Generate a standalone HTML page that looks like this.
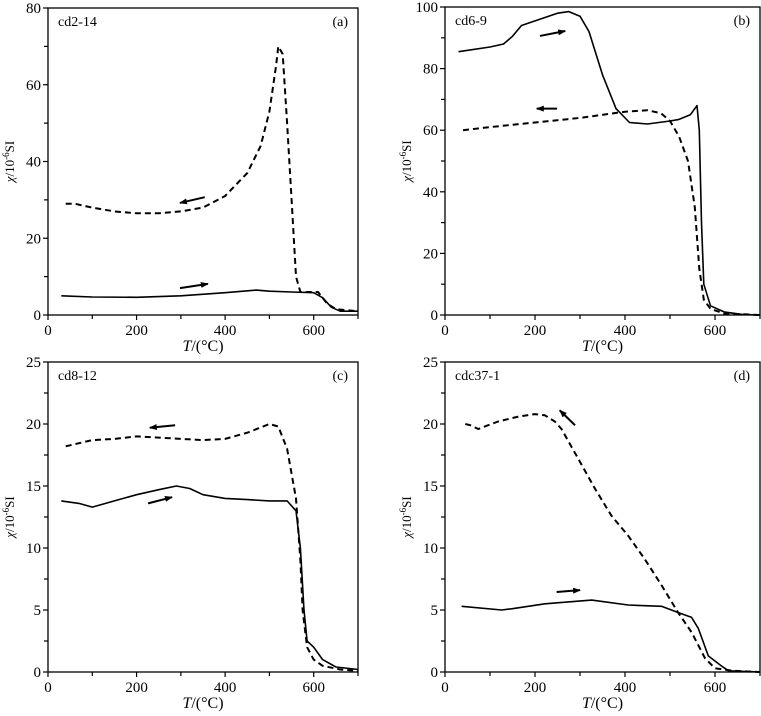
<!DOCTYPE html>
<html><head><meta charset="utf-8"><style>
html,body{margin:0;padding:0;background:#fff;width:761px;height:716px;overflow:hidden}
svg{display:block;font-family:"Liberation Serif",serif}
</style></head><body>
<svg id="chart" width="761" height="716"></svg>
<script>
const xTicks=[0,200,400,600];
const xMinor=[100,300,500,700];
const aHeatT=[30,100,200,300,400,470,500,550,600,620,640,660,700];
const aHeatV=[5,4.7,4.6,5,5.8,6.5,6.2,6,5.8,4.5,2,1,1];
const aCoolT=[40,60,100,150,200,250,300,350,400,450,480,500,515,520,530,540,550,560,570,590,610,630,650,700];
const aCoolV=[29,29,28,27,26.5,26.5,27,28,31,37,44,53,65,70,68,50,30,10,6,6,6,3,1.5,1];
const bHeatT=[30,100,130,150,170,200,250,275,300,320,350,380,410,450,500,520,545,560,565,570,575,590,620,660,700];
const bHeatV=[85.5,87,88,90.5,94,95.5,98,98.5,97,92,78,67,62.5,62,63,63.5,65,68,60,30,10,3,1,0.2,0];
const bCoolT=[40,100,200,300,400,450,480,500,520,540,555,565,575,590,620,700];
const bCoolV=[60,61,62.5,64,66,66.5,65.5,63,58,50,35,15,5,2,0.5,0];
const cHeatT=[30,70,100,150,200,250,290,320,350,400,450,500,540,560,570,578,585,600,620,650,700];
const cHeatV=[13.8,13.6,13.3,13.8,14.3,14.7,15,14.8,14.3,14,13.9,13.8,13.8,13,10,5,2.5,2,1,0.4,0.2];
const cCoolT=[40,100,150,200,250,300,350,400,450,500,520,540,560,570,575,585,600,620,660,700];
const cCoolV=[18.2,18.7,18.8,19,18.9,18.8,18.7,18.8,19.3,20,19.8,18,14,9,5,2,1,0.5,0.2,0.1];
const dHeatT=[37,126,148,222,326,407,481,518,548,563,585,615,630,700];
const dHeatV=[5.3,5.0,5.1,5.5,5.8,5.4,5.3,4.8,4.4,3.5,1.3,0.47,0.1,0];
const dCoolT=[45,56,74,118,163,200,222,244,259,296,333,370,407,444,481,518,548,578,600,640,700];
const dCoolV=[20,19.9,19.6,20.2,20.6,20.8,20.7,20.2,19.6,17.2,14.8,12.6,11.0,9.1,7.0,4.8,3.2,1.1,0.3,0.1,0];
const panels=[
 {id:'a',name:'cd2-14',x0:48,x1:358,y0:315,y1:8,ymax:80,yTicks:[0,20,40,60,80],yMinor:[10,30,50,70],
  heat:[aHeatT,aHeatV],cool:[aCoolT,aCoolV],arrows:[[354,30.7,298,29.2],[298,7,361,8.1]]},
 {id:'b',name:'cd6-9',x0:445,x1:760,y0:315,y1:7,ymax:100,yTicks:[0,20,40,60,80,100],yMinor:[10,30,50,70,90],
  heat:[bHeatT,bHeatV],cool:[bCoolT,bCoolV],arrows:[[211,90.6,267,92.2],[249,67,204,67]]},
 {id:'c',name:'cd8-12',x0:48,x1:358,y0:672,y1:362,ymax:25,yTicks:[0,5,10,15,20,25],yMinor:[2.5,7.5,12.5,17.5,22.5],
  heat:[cHeatT,cHeatV],cool:[cCoolT,cCoolV],arrows:[[287,19.9,230,19.7],[226,13.6,280,14.1]]},
 {id:'d',name:'cdc37-1',x0:445,x1:760,y0:672,y1:362,ymax:25,yTicks:[0,5,10,15,20,25],yMinor:[2.5,7.5,12.5,17.5,22.5],
  heat:[dHeatT,dHeatV],cool:[dCoolT,dCoolV],arrows:[[248,6.45,300,6.6],[289,19.9,255,21.1]]}
];
const svg=document.getElementById('chart');
const NS='http://www.w3.org/2000/svg';
function mk(tag,attrs,parent){const e=document.createElementNS(NS,tag);for(const k in attrs)e.setAttribute(k,attrs[k]);parent.appendChild(e);return e;}
const defs=mk('defs',{},svg);
const mkr=mk('marker',{id:'ah',markerWidth:'8',markerHeight:'6',refX:'7',refY:'3',orient:'auto',markerUnits:'userSpaceOnUse'},defs);
mk('path',{d:'M0,0 L8,3 L0,6 Z',fill:'#000'},mkr);
panels.forEach(p=>{
 const g=mk('g',{},svg);
 
 
 const sx=v=>p.x0+(v/700)*(p.x1-p.x0);
 const sy=v=>p.y0-(v/p.ymax)*(p.y0-p.y1);
 const fr=mk('rect',{x:p.x0,y:p.y1,width:p.x1-p.x0,height:p.y0-p.y1,fill:'none',stroke:'#000','stroke-width':1.3},g);
 
 
 xTicks.forEach(t=>{
  mk('line',{x1:sx(t),x2:sx(t),y1:p.y0,y2:p.y0+5,stroke:'#000','stroke-width':1.2},g);
  const tx=mk('text',{x:sx(t),y:p.y0+20,'text-anchor':'middle','font-size':15},g);tx.textContent=t;
  
  
 });
 xMinor.forEach(t=>mk('line',{x1:sx(t),x2:sx(t),y1:p.y0,y2:p.y0+4,stroke:'#000','stroke-width':1.2},g));
 p.yTicks.forEach(t=>{
  mk('line',{x1:p.x0-5,x2:p.x0,y1:sy(t),y2:sy(t),stroke:'#000','stroke-width':1.2},g);
  const tx=mk('text',{x:p.x0-7,y:sy(t)+5,'text-anchor':'end','font-size':15},g);tx.textContent=t;
  
  
 });
 p.yMinor.forEach(t=>mk('line',{x1:p.x0-4,x2:p.x0,y1:sy(t),y2:sy(t),stroke:'#000','stroke-width':1.2},g));
 const xl=mk('text',{x:(p.x0+p.x1)/2,y:p.y0+36,'text-anchor':'middle','font-size':16},g);
 xl.innerHTML='<tspan font-style="italic">T</tspan>/(°C)';
 
 
 const cy=(p.y0+p.y1)/2, cx=p.x0-34;
 const yl=mk('text',{x:cx,y:cy,'text-anchor':'middle','font-size':13,transform:`rotate(-90 ${cx} ${cy})`},g);
 yl.innerHTML='<tspan font-style="italic">χ</tspan>/10<tspan dy="-5" font-size="9">-6</tspan><tspan dy="5">SI</tspan>';
 
 
 const nm=mk('text',{x:p.x0+10,y:p.y1+18,'font-size':14},g);nm.textContent=p.name;
 
 
 const pl=mk('text',{x:p.x1-10,y:p.y1+18,'text-anchor':'end','font-size':14},g);pl.textContent='('+p.id+')';
 
 
 const path=(T,V)=>T.map((t,i)=>(i?'L':'M')+sx(t).toFixed(1)+','+sy(V[i]).toFixed(1)).join(' ');
 const h=mk('path',{d:path(p.heat[0],p.heat[1]),fill:'none',stroke:'#000','stroke-width':1.6,'stroke-linejoin':'round'},g);
 
 
 const c=mk('path',{d:path(p.cool[0],p.cool[1]),fill:'none',stroke:'#000','stroke-width':2,'stroke-dasharray':'6,4','stroke-linejoin':'round'},g);
 
 
 p.arrows.forEach(a=>{
  const ar=mk('line',{x1:sx(a[0]),y1:sy(a[1]),x2:sx(a[2]),y2:sy(a[3]),stroke:'#000','stroke-width':2,'marker-end':'url(#ah)'},g);
  
  
 });
});
</script>
</body></html>
